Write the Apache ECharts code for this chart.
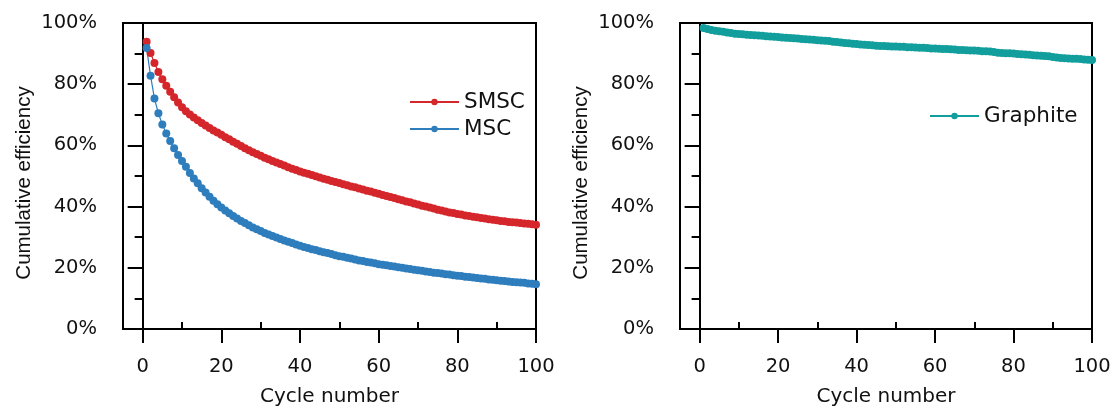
<!DOCTYPE html>
<html>
<head>
<meta charset="utf-8">
<script src="https://cdn.jsdelivr.net/npm/echarts@6/dist/echarts.min.js"></script>
<style>
  html, body { margin: 0; padding: 0; background: #fff; }
  #chart { width: 1114px; height: 412px; }
</style>
</head>
<body>
<div id="chart"></div>
<script>
// 循环次数
const cycles = [
  1, 2, 3, 4, 5, 6, 7, 8, 9, 10, 11, 12, 13, 14, 15, 16, 17, 18, 19, 20,
  21, 22, 23, 24, 25, 26, 27, 28, 29, 30, 31, 32, 33, 34, 35, 36, 37, 38, 39, 40,
  41, 42, 43, 44, 45, 46, 47, 48, 49, 50, 51, 52, 53, 54, 55, 56, 57, 58, 59, 60,
  61, 62, 63, 64, 65, 66, 67, 68, 69, 70, 71, 72, 73, 74, 75, 76, 77, 78, 79, 80,
  81, 82, 83, 84, 85, 86, 87, 88, 89, 90, 91, 92, 93, 94, 95, 96, 97, 98, 99, 100
];

// 累计效率 (%)
const smsc = [
  93.9, 90.2, 86.9, 84.0, 81.6, 79.5, 77.5, 75.7, 74.0, 72.5,
  71.2, 70.1, 69.1, 68.2, 67.3, 66.5, 65.7, 64.9, 64.2, 63.5,
  62.7, 62.0, 61.2, 60.5, 59.8, 59.1, 58.4, 57.8, 57.2, 56.6,
  56.0, 55.5, 54.9, 54.4, 53.9, 53.4, 52.9, 52.4, 52.0, 51.5,
  51.1, 50.7, 50.3, 49.9, 49.5, 49.1, 48.8, 48.4, 48.0, 47.7,
  47.3, 47.0, 46.6, 46.3, 45.9, 45.6, 45.2, 44.9, 44.5, 44.2,
  43.8, 43.5, 43.1, 42.8, 42.4, 42.1, 41.7, 41.4, 41.0, 40.7,
  40.3, 40.0, 39.7, 39.4, 39.0, 38.7, 38.4, 38.1, 37.9, 37.6,
  37.4, 37.1, 36.9, 36.7, 36.5, 36.3, 36.1, 35.9, 35.7, 35.5,
  35.3, 35.2, 35.0, 34.9, 34.8, 34.6, 34.5, 34.4, 34.2, 34.1
];
const msc = [
  91.8, 82.8, 75.3, 70.5, 66.8, 63.9, 61.4, 59.1, 56.9, 54.9,
  53.0, 51.0, 49.2, 47.6, 46.0, 44.6, 43.2, 41.9, 40.8, 39.7,
  38.7, 37.8, 36.9, 36.1, 35.3, 34.6, 33.9, 33.2, 32.6, 32.0,
  31.4, 30.9, 30.4, 29.9, 29.4, 28.9, 28.5, 28.1, 27.6, 27.2,
  26.8, 26.5, 26.1, 25.8, 25.4, 25.1, 24.8, 24.5, 24.1, 23.8,
  23.6, 23.3, 23.0, 22.7, 22.4, 22.2, 21.9, 21.7, 21.5, 21.2,
  21.0, 20.8, 20.6, 20.4, 20.2, 20.0, 19.8, 19.6, 19.4, 19.2,
  19.0, 18.8, 18.6, 18.4, 18.3, 18.1, 17.9, 17.8, 17.6, 17.4,
  17.3, 17.1, 17.0, 16.8, 16.7, 16.5, 16.4, 16.2, 16.1, 15.9,
  15.8, 15.7, 15.5, 15.4, 15.3, 15.2, 15.1, 14.9, 14.8, 14.6
];
const graphite = [
  98.4, 98.0, 97.7, 97.5, 97.3, 97.1, 96.9, 96.7, 96.5, 96.4,
  96.3, 96.2, 96.1, 96.0, 95.9, 95.8, 95.7, 95.6, 95.5, 95.4,
  95.3, 95.2, 95.1, 95.0, 94.9, 94.8, 94.7, 94.6, 94.5, 94.4,
  94.3, 94.2, 94.1, 93.9, 93.8, 93.6, 93.5, 93.4, 93.2, 93.1,
  93.0, 92.9, 92.8, 92.7, 92.6, 92.5, 92.5, 92.4, 92.3, 92.3,
  92.2, 92.2, 92.1, 92.1, 92.0, 91.9, 91.9, 91.8, 91.7, 91.7,
  91.6, 91.5, 91.5, 91.4, 91.3, 91.2, 91.2, 91.1, 91.0, 91.0,
  90.9, 90.8, 90.8, 90.7, 90.5, 90.3, 90.2, 90.1, 90.1, 90.0,
  89.9, 89.8, 89.7, 89.6, 89.5, 89.4, 89.3, 89.2, 89.1, 88.9,
  88.7, 88.6, 88.5, 88.4, 88.3, 88.3, 88.2, 88.1, 88.0, 87.9
];

// 刻度
const xMajorTicks = [0, 20, 40, 60, 80, 100];
const xMinorTicks = [10, 30, 50, 70, 90];

const hFont = 'DejaVu Sans';
const vFont = 'Liberation Sans';

function pairs(values) {
    return values.map((v, i) => [cycles[i], v]);
}

function mainXAxis(gridIndex) {
    return {
        type: 'value',
        gridIndex: gridIndex,
        min: -5,
        max: 100,
        name: 'Cycle number',
        nameLocation: 'middle',
        nameGap: 58,
        nameTextStyle: { fontFamily: hFont, fontSize: 20, color: '#111' },
        axisLine: { show: true, onZero: false, lineStyle: { color: '#000', width: 2 } },
        axisTick: { show: true, customValues: xMajorTicks, length: 14, lineStyle: { color: '#000', width: 2 } },
        axisLabel: { customValues: xMajorTicks, margin: 28, fontFamily: hFont, fontSize: 19.5, color: '#111' },
        splitLine: { show: false }
    };
}

function minorXAxis(gridIndex) {
    return {
        type: 'value',
        gridIndex: gridIndex,
        min: -5,
        max: 100,
        axisLine: { show: false },
        axisTick: { show: true, customValues: xMinorTicks, length: 7, lineStyle: { color: '#000', width: 2 } },
        axisLabel: { show: false },
        splitLine: { show: false }
    };
}

function yAxisOf(gridIndex) {
    return {
        type: 'value',
        gridIndex: gridIndex,
        min: 0,
        max: 100,
        interval: 20,
        name: 'Cumulative efficiency',
        nameLocation: 'middle',
        nameGap: 88,
        nameTextStyle: { fontFamily: vFont, fontSize: 20.5, color: '#111', padding: [0, 14, 0, 0] },
        axisLine: { show: true, lineStyle: { color: '#000', width: 2 } },
        axisTick: { show: true, length: 15, lineStyle: { color: '#000', width: 2 } },
        minorTick: { show: true, splitNumber: 2, length: 8, lineStyle: { color: '#000', width: 2 } },
        axisLabel: { formatter: '{value}%', margin: 26, fontFamily: hFont, fontSize: 19.5, color: '#111' },
        splitLine: { show: false }
    };
}

function lineSeries(name, values, color, xi, yi) {
    return {
        name: name,
        type: 'line',
        xAxisIndex: xi,
        yAxisIndex: yi,
        data: pairs(values),
        symbol: 'circle',
        symbolSize: 8,
        showAllSymbol: true,
        lineStyle: { color: color, width: 1.2 },
        itemStyle: { color: color },
        animation: false
    };
}

const chart = echarts.init(document.getElementById('chart'), null, { renderer: 'canvas' });

const option = {
    backgroundColor: '#fff',
    animation: false,
    grid: [
        { left: 123, right: 578, top: 23, bottom: 81, show: true, borderColor: '#000', borderWidth: 2 },
        { left: 680, right: 22, top: 23, bottom: 81, show: true, borderColor: '#000', borderWidth: 2 }
    ],
    xAxis: [mainXAxis(0), minorXAxis(0), mainXAxis(1), minorXAxis(1)],
    yAxis: [yAxisOf(0), yAxisOf(1)],
    legend: [
        {
            data: ['SMSC', 'MSC'],
            orient: 'vertical',
            left: 404,
            top: 86,
            itemWidth: 49,
            itemHeight: 8,
            itemGap: 5,
            textStyle: { fontFamily: hFont, fontSize: 21.5, color: '#111' }
        },
        {
            data: ['Graphite'],
            orient: 'vertical',
            left: 924,
            top: 100,
            itemWidth: 49,
            itemHeight: 8,
            textStyle: { fontFamily: hFont, fontSize: 21.5, color: '#111' }
        }
    ],
    series: [
        lineSeries('SMSC', smsc, '#d4262b', 0, 0),
        lineSeries('MSC', msc, '#2e7dbd', 0, 0),
        lineSeries('Graphite', graphite, '#129e9c', 2, 1)
    ]
};

chart.setOption(option);
</script>
</body>
</html>
